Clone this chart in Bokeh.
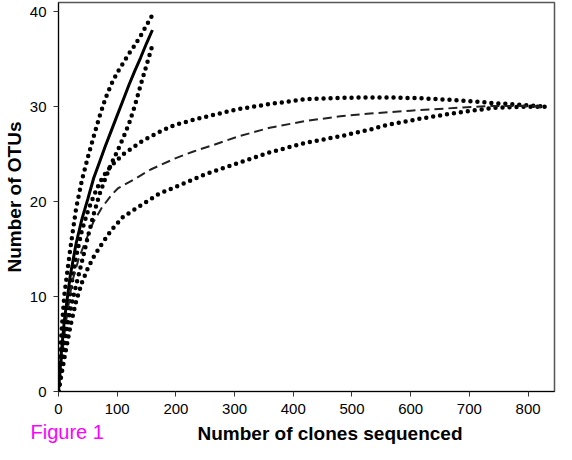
from bokeh.plotting import figure
from bokeh.models import Range1d, Title, FixedTicker
from bokeh.embed import file_html
from bokeh.resources import INLINE

# ---- data ----
x_ticks = [0, 100, 200, 300, 400, 500, 600, 700, 800]
y_ticks = [0, 10, 20, 30, 40]

# sample 1 : observed (solid) with upper / lower bounds (dotted)
s1_x = [0, 5, 10, 20, 30, 40, 50, 60, 70, 80, 90, 100, 110, 120, 130, 140, 150, 160]
s1_obs = [0, 4.2, 7.5, 12.2, 15.6, 18.2, 20.3, 22.5, 24.2, 25.9, 27.5, 29.1, 30.7, 32.3, 33.8, 35.2, 36.7, 38.1]
s1_up_x = [0, 5, 10, 15, 20, 30, 40, 50, 60, 70, 80, 90, 100, 110, 120, 130, 140, 150, 160]
s1_up = [0, 6.2, 10.2, 12.6, 15.0, 19.3, 22.3, 24.7, 26.9, 29.0, 30.9, 32.4, 33.6, 34.6, 35.6, 36.5, 37.5, 38.6, 39.7]
s1_lo_x = [0, 5, 10, 15, 20, 25, 30, 40, 50, 60, 70, 80, 90, 100, 110, 120, 130, 140, 150, 160]
s1_lo = [0, 2.5, 4.8, 6.9, 8.5, 9.9, 11.2, 13.7, 16.3, 18.7, 20.8, 22.5, 24.0, 25.3, 26.7, 28.2, 30.1, 32.3, 34.4, 36.5]

# sample 2 : mean (dashed) with upper / lower bounds (dotted)
s2_mean_x = [0, 5, 10, 15, 23, 34, 45, 59, 73, 90, 101, 130, 157, 200, 230, 260, 307, 360, 420, 480, 531, 600, 680, 741, 790, 832]
s2_mean = [0, 3.2, 6.0, 8.3, 11.5, 13.9, 15.7, 17.8, 19.3, 20.7, 21.4, 22.4, 23.4, 24.6, 25.3, 25.9, 26.9, 27.8, 28.5, 29.0, 29.3, 29.6, 29.9, 30.1, 30.1, 30.0]
s2_up_x = [0, 10, 20, 30, 40, 50, 60, 70, 80, 90, 110, 140, 173, 198, 240, 301, 360, 420, 480, 531, 560, 620, 680, 741, 790, 832]
s2_up = [0, 5.5, 10.5, 14.2, 17.0, 19.0, 20.6, 22.0, 23.0, 23.8, 25.0, 26.3, 27.4, 28.1, 28.8, 29.7, 30.3, 30.8, 30.95, 31.0, 31.0, 30.9, 30.7, 30.4, 30.2, 30.0]
s2_lo_x = [0, 10, 20, 30, 40, 50, 60, 70, 90, 110, 140, 170, 212, 250, 307, 360, 420, 480, 530, 560, 620, 680, 741, 790, 832]
s2_lo = [0, 3.5, 6.8, 9.5, 11.5, 13.0, 14.2, 15.2, 17.0, 18.4, 19.6, 20.8, 21.9, 22.9, 24.1, 25.2, 26.2, 26.9, 27.6, 28.1, 28.8, 29.4, 29.9, 30.0, 30.0]

x_title = "Number of clones sequenced"
y_title = "Number of OTUs"
fig_label = "Figure 1"

FONT = "Liberation Sans"

p = figure(width=556, height=444, output_backend="svg", toolbar_location=None,
           x_range=Range1d(0, 845), y_range=Range1d(0, 41),
           min_border_left=53, min_border_right=2, min_border_top=2, min_border_bottom=53)
p.background_fill_color = "white"
p.border_fill_color = "white"
p.grid.visible = False
p.outline_line_color = "#555555"
p.outline_line_width = 1.5

for ax in (p.xaxis, p.yaxis):
    ax.axis_line_color = "black"
    ax.axis_line_width = 1
    ax.major_tick_in = 0
    ax.major_tick_out = 5
    ax.minor_tick_out = 0
    ax.minor_tick_in = 0
    ax.major_tick_line_color = "#333333"
    ax.major_label_text_font = FONT
    ax.major_label_text_font_size = "15px"
    ax.major_label_text_color = "black"
    ax.axis_label_text_font = FONT
    ax.axis_label_text_font_size = "19px"
    ax.axis_label_text_font_style = "bold"
    ax.axis_label_text_color = "black"
    ax.axis_label_standoff = 2

p.xaxis.ticker = FixedTicker(ticks=x_ticks)
p.yaxis.ticker = FixedTicker(ticks=y_ticks)
p.xaxis.major_label_standoff = 7
p.yaxis.major_label_standoff = 7
p.xaxis.axis_label = " "          # reserves the title row; the title itself is drawn below
p.yaxis.axis_label = y_title

# sample 2 curves
p.line(s2_up_x, s2_up, line_color="black", line_width=4.5, line_dash="0 7", line_cap="round")
p.line(s2_lo_x, s2_lo, line_color="black", line_width=4.5, line_dash="0 7", line_cap="round")
p.line(s2_mean_x, s2_mean, line_color="#222222", line_width=2, line_dash="9 5")

# sample 1 curves
p.line(s1_up_x, s1_up, line_color="black", line_width=4.5, line_dash="0 7", line_cap="round")
p.line(s1_lo_x, s1_lo, line_color="black", line_width=4.5, line_dash="0 7", line_cap="round")
p.line(s1_x, s1_obs, line_color="black", line_width=3)

# x-axis title, slightly right of centre as in the original
p.add_layout(Title(text=x_title, text_color="black", text_font=FONT,
                   text_font_size="19px", text_font_style="bold",
                   align="left", offset=139, vertical_align="top", standoff=-40), "below")
# magenta figure tag at the lower left
p.add_layout(Title(text=fig_label, text_color="#FF00FF", text_font=FONT,
                   text_font_size="20px", text_font_style="normal",
                   align="left", offset=-28, vertical_align="top", standoff=-43), "below")

open("out.html", "w").write(file_html(p, INLINE))
